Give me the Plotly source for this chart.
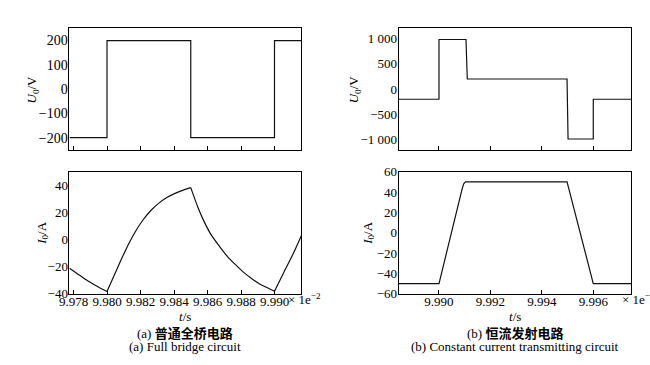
import plotly.graph_objects as go

# ---------------- data (time in units of 1e-2 s) ----------------
# (a) full bridge circuit
ta_u = [9.97776, 9.9800, 9.9800, 9.9850, 9.9850, 9.9900, 9.9900, 9.9916]
ua_u = [-200, -200, 200, 200, -200, -200, 200, 200]

ta_i = [9.97776, 9.97839, 9.97897, 9.97956, 9.9800, 9.98063, 9.98113, 9.98161,
        9.98210, 9.98259, 9.98308, 9.98357, 9.98406, 9.98455, 9.9850, 9.98543,
        9.98582, 9.98621, 9.98670, 9.98718, 9.98767, 9.98816, 9.98865, 9.98914,
        9.98963, 9.9900, 9.99051, 9.99110, 9.99160]
ia_i = [-21.2, -26.6, -31.4, -35.6, -38.4, -20.8, -7.4, 4.0,
        13.6, 21.0, 26.6, 30.9, 34.0, 36.4, 38.2, 23.6,
        12.6, 3.6, -4.8, -12.4, -18.6, -24.3, -29.0, -33.0,
        -36.0, -38.2, -25.4, -10.9, 2.8]
# indices of the sharp corners (switching instants) in the current curve
ia_corners = [0, 4, 14, 25, 28]

# (b) constant current transmitting circuit
tb_u = [9.98843, 9.9900, 9.9900, 9.99105, 9.99110, 9.99498, 9.99502, 9.9960, 9.9960, 9.99748]
ub_u = [-200, -200, 980, 980, 200, 200, -985, -985, -200, -200]

tb_i = [9.98843, 9.9900, 9.99090, 9.99096, 9.99103, 9.99498, 9.9960, 9.99748]
ib_i = [-50, -50, 43, 48, 50, 50, -50, -50]

xa_ticks = [9.978, 9.980, 9.982, 9.984, 9.986, 9.988, 9.990]
xb_ticks = [9.990, 9.992, 9.994, 9.996]
ya_u_ticks = [-200, -100, 0, 100, 200]
ya_i_ticks = [-40, -20, 0, 20, 40]
yb_u_ticks = [-1000, -500, 0, 500, 1000]
yb_u_text = ["\u22121 000", "\u2212500", "0", "500", "1 000"]
yb_i_ticks = [-60, -40, -20, 0, 20, 40, 60]

# ---------------- figure ----------------
W, H = 650, 365
FONT = "Liberation Serif, Times New Roman, serif"
CJK = "Liberation Serif, Noto Sans CJK SC, sans-serif"
LINE = dict(color="#111111", width=1.2)
FS = 13

fig = go.Figure()
fig.add_trace(go.Scatter(x=ta_u, y=ua_u, mode="lines", line=LINE, xaxis="x", yaxis="y"))
for a, b in zip(ia_corners[:-1], ia_corners[1:]):
    fig.add_trace(go.Scatter(x=ta_i[a:b + 1], y=ia_i[a:b + 1], mode="lines",
                             line=dict(LINE, shape="spline", smoothing=0.8),
                             xaxis="x2", yaxis="y2"))
fig.add_trace(go.Scatter(x=tb_u, y=ub_u, mode="lines", line=LINE, xaxis="x3", yaxis="y3"))
fig.add_trace(go.Scatter(x=tb_i, y=ib_i, mode="lines", line=LINE, xaxis="x4", yaxis="y4"))

def px_x(a, b):
    return [a / W, b / W]

def px_y(top, bot):
    return [1 - bot / H, 1 - top / H]

dl = px_x(59.5, 295.3)
dr = px_x(394.3, 631.0)
dt = px_y(22.3, 149.0)
db = px_y(171.7, 299.0)

axbase = dict(showline=True, linecolor="black", linewidth=1, mirror=True,
              showgrid=False, zeroline=False,
              tickfont=dict(family=FONT, size=FS, color="black"))

def xax(domain, anchor, rng, ticks, labels):
    d = dict(axbase)
    d.update(domain=domain, anchor=anchor, range=rng, tickvals=ticks,
             ticks="inside", ticklen=4, tickcolor="black", tickwidth=1,
             showticklabels=labels, tickformat=".3f", tickangle=0,
             ticklabelstandoff=-4)
    return d

def yax(domain, anchor, rng, ticks, text=None, fs=FS):
    d = dict(axbase)
    d.update(domain=domain, anchor=anchor, range=rng, tickvals=ticks,
             ticks="outside", ticklen=0, ticklabelstandoff=-2,
             tickfont=dict(family=FONT, size=fs, color="black"))
    if text is not None:
        d.update(ticktext=text)
    return d

fig.update_layout(
    width=W, height=H,
    margin=dict(l=0, r=0, t=0, b=0),
    paper_bgcolor="white", plot_bgcolor="white",
    showlegend=False,
    font=dict(family=FONT, size=FS, color="black"),
    xaxis=xax(dl, "y", [9.97776, 9.99160], xa_ticks, False),
    yaxis=yax(dt, "x", [-250, 250], ya_u_ticks, fs=14),
    xaxis2=xax(dl, "y2", [9.97776, 9.99160], xa_ticks, True),
    yaxis2=yax(db, "x2", [-40, 50], ya_i_ticks),
    xaxis3=xax(dr, "y3", [9.98843, 9.99748], xb_ticks, False),
    yaxis3=yax(dt, "x3", [-1200, 1200], yb_u_ticks, yb_u_text),
    xaxis4=xax(dr, "y4", [9.98843, 9.99748], xb_ticks, True),
    yaxis4=yax(db, "x4", [-60, 60], yb_i_ticks),
)

def ann(x, y, text, size=FS, angle=0, family=FONT, xanchor="center"):
    fig.add_annotation(x=x / W, y=1 - y / H, xref="paper", yref="paper",
                       text=text, showarrow=False, textangle=angle,
                       xanchor=xanchor, yanchor="middle",
                       font=dict(family=family, size=size, color="black"))

cl = (59.5 + 295.3) / 2
cr = (394.3 + 631.0) / 2
# y-axis titles
ann(21.7, 85.7, "<i>U</i><sub>0</sub>/V", angle=-90)
ann(31.7, 235.3, "<i>I</i><sub>0</sub>/A", angle=-90)
ann(349.0, 85.7, "<i>U</i><sub>0</sub>/V", angle=-90)
ann(363.3, 235.3, "<i>I</i><sub>0</sub>/A", angle=-90)
# x-axis titles
ann(cl, 323, "<i>t</i>/s")
ann(cr, 323, "<i>t</i>/s")
# scale factors
ann(280, 304, "\u00d7 1e<sup>\u22122</sup>", xanchor="left")
ann(619, 304, "\u00d7 1e<sup>\u22122</sup>", xanchor="left")
# captions
ann(cl, 340.5, "(a) <b>普通全桥电路</b>", family=CJK)
ann(cl, 354.5, "(a) Full bridge circuit")
ann(cr, 340.5, "(b) <b>恒流发射电路</b>", family=CJK)
ann(cr, 354.5, "(b) Constant current transmitting circuit")

fig.write_html("out.html",
               config={"displayModeBar": False},
               post_script="document.body.style.margin='0';"
                           "document.body.style.overflow='hidden';")
